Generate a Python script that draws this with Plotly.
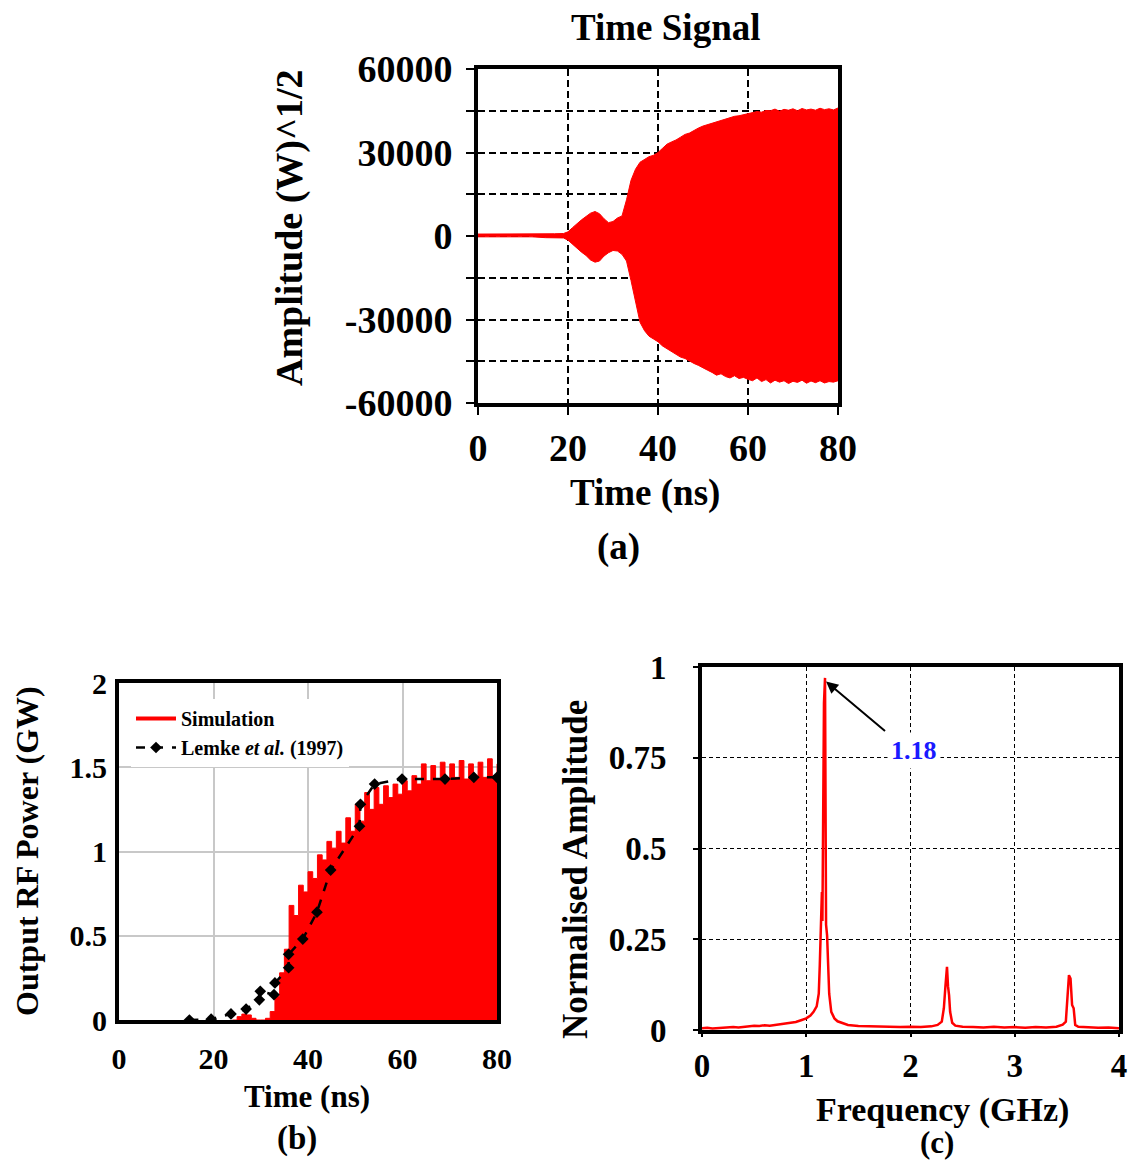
import plotly.graph_objects as go

W, H = 1133, 1164
FONT = "Liberation Serif"

# ---------------- (a) Time signal envelope ----------------
t_env = [0, 4, 8, 12, 15, 17, 19, 20, 21, 22, 23, 24, 25, 26, 27, 28, 29, 30, 31, 32,
         33, 34, 35, 36, 37, 38, 39, 40, 41, 42, 43, 44, 45, 46, 47, 48, 49, 50, 51, 52,
         53, 54, 55, 56, 57, 58, 59, 60, 61, 62, 63, 64, 65, 66, 67, 68, 69, 70, 71, 72,
         73, 74, 75, 76, 77, 78, 79, 80]
env_upper = [700, 700, 600, 600, 800, 800, 900, 1500, 3000, 4500, 5800, 7000, 8200, 8800, 8000, 6200,
             4800, 5200, 6500, 7200, 13000, 20000, 24000, 26500, 27500, 28500, 29000, 30000, 31500, 33000,
             33800, 34500, 35500, 36500, 37000, 38000, 38800, 39500, 40000, 40500, 41000, 41600, 42000,
             42500, 43000, 43200, 43600, 44000, 44300, 44700, 44500, 45100, 45000, 45600, 44800, 45500,
             45200, 45700, 45000, 45800, 45300, 45600, 45200, 45900, 45400, 45700, 45300, 46000]
env_lower = [-300, -300, -300, -300, -600, -600, -700, -1500, -3000, -4200, -5800, -7000, -8600, -9400,
             -9000, -7200, -6000, -5200, -5400, -6600, -9000, -16000, -24000, -31000, -34000, -36000,
             -37000, -38000, -39500, -40500, -41500, -42500, -43500, -44000, -45000, -45800, -46500,
             -47500, -48200, -49000, -50000, -49500, -50500, -51000, -50200, -51200, -50800, -51500,
             -52000, -51000, -52300, -51600, -52800, -51800, -52500, -52000, -53000, -52200, -52600,
             -51800, -52900, -52100, -52700, -52000, -52800, -52300, -52500, -52000]
a_yticks = [-60000, -45000, -30000, -15000, 0, 15000, 30000, 45000, 60000]
a_yticktext = ["-60000", "", "-30000", "", "0", "", "30000", "", "60000"]
a_xticks = [0, 20, 40, 60, 80]

# ---------------- (b) Output RF power ----------------
sim_t = list(range(24, 81))
sim_p = [0.00, 0.02, 0.035, 0.03, 0.01, 0.0, 0.0, 0.01, 0.05, 0.14, 0.28, 0.42, 0.68, 0.62, 0.80,
         0.76, 0.88, 0.84, 0.98, 0.95, 1.06, 1.02, 1.12, 1.05, 1.20, 1.12, 1.28, 1.18, 1.35, 1.25,
         1.38, 1.28, 1.39, 1.32, 1.40, 1.34, 1.42, 1.36, 1.45, 1.40, 1.52, 1.42, 1.51, 1.43, 1.53,
         1.42, 1.52, 1.44, 1.54, 1.43, 1.52, 1.44, 1.53, 1.44, 1.55, 1.45, 1.52]
lemke_t = [14.9, 19.5, 23.7, 26.9, 29.7, 29.9, 32.8, 33.0, 35.9, 35.9, 38.9, 41.9, 44.8, 50.9,
           51.1, 54.1, 59.9, 69.0, 75.1, 80.0]
lemke_p = [0.0, 0.005, 0.036, 0.065, 0.12, 0.17, 0.15, 0.22, 0.31, 0.39, 0.48, 0.64, 0.89, 1.15,
           1.28, 1.40, 1.43, 1.43, 1.44, 1.44]
b_xticks = [0, 20, 40, 60, 80]
b_yticks = [0, 0.5, 1, 1.5, 2]

# ---------------- (c) Spectrum ----------------
freq = [0.00, 0.05, 0.10, 0.15, 0.20, 0.25, 0.30, 0.35, 0.40, 0.45, 0.50, 0.55, 0.60, 0.65, 0.70,
        0.75, 0.80, 0.85, 0.90, 0.95, 1.00,
        1.04, 1.07, 1.10, 1.12, 1.13, 1.14, 1.15, 1.155, 1.16, 1.17, 1.18, 1.185, 1.19, 1.20, 1.21,
        1.22, 1.24, 1.27, 1.30, 1.35, 1.40,
        1.50, 1.60, 1.70, 1.80, 1.90, 2.00, 2.10, 2.20,
        2.26, 2.30, 2.32, 2.335, 2.35, 2.36, 2.37, 2.38, 2.40, 2.43,
        2.50, 2.60, 2.70, 2.80, 2.90, 3.00, 3.10, 3.20, 3.30, 3.40,
        3.46, 3.49, 3.505, 3.52, 3.535, 3.55, 3.565, 3.58, 3.61,
        3.70, 3.80, 3.90, 4.00]
amp = [0.005, 0.006, 0.004, 0.005, 0.007, 0.006, 0.008, 0.007, 0.009, 0.010, 0.012, 0.011, 0.013,
       0.012, 0.014, 0.015, 0.017, 0.019, 0.022, 0.027, 0.032,
       0.040, 0.050, 0.065, 0.10, 0.18, 0.26, 0.38, 0.30, 0.55, 0.90, 0.97, 0.40, 0.29, 0.26, 0.18,
       0.10, 0.05, 0.032, 0.024, 0.018, 0.014,
       0.011, 0.010, 0.009, 0.010, 0.008, 0.009, 0.008, 0.010,
       0.014, 0.023, 0.06, 0.12, 0.174, 0.12, 0.096, 0.05, 0.02, 0.012,
       0.009, 0.008, 0.007, 0.009, 0.007, 0.008, 0.006, 0.008, 0.007, 0.009,
       0.015, 0.023, 0.096, 0.151, 0.142, 0.069, 0.060, 0.014, 0.009,
       0.007, 0.006, 0.007, 0.005]
c_xticks = [0, 1, 2, 3, 4]
c_yticks = [0, 0.25, 0.5, 0.75, 1]
peak_freq, peak_amp = 1.19, 0.96
peak_label = "1.18"


def px(x):
    return x / W


def py(y):
    return 1 - y / H


fig = go.Figure()

# (a)
fig.add_trace(go.Scatter(x=t_env, y=env_upper, mode="lines", line=dict(color="red", width=1),
                         xaxis="x", yaxis="y", showlegend=False, hoverinfo="skip"))
fig.add_trace(go.Scatter(x=t_env, y=env_lower, mode="lines", line=dict(color="red", width=1),
                         fill="tonexty", fillcolor="red", xaxis="x", yaxis="y",
                         showlegend=False, hoverinfo="skip"))

# (b)
fig.add_trace(go.Scatter(x=sim_t, y=sim_p, mode="lines", line=dict(color="red", width=1, shape="hv"),
                         fill="tozeroy", fillcolor="red", xaxis="x2", yaxis="y2", showlegend=False))
fig.add_trace(go.Scatter(x=[None], y=[None], mode="lines", line=dict(color="red", width=4),
                         name="<b>Simulation</b>", xaxis="x2", yaxis="y2"))
fig.add_trace(go.Scatter(x=lemke_t, y=lemke_p, mode="lines+markers",
                         line=dict(color="black", width=2.5, dash="dash"),
                         marker=dict(symbol="diamond", size=9, color="black"),
                         name="<b>Lemke <i>et al.</i> (1997)</b>", xaxis="x2", yaxis="y2"))

# (c)
fig.add_trace(go.Scatter(x=freq, y=amp, mode="lines", line=dict(color="red", width=2.5),
                         xaxis="x3", yaxis="y3", showlegend=False))


def axis(domain, rng, tickvals, size, gridcolor, griddash, gridwidth, anchor, ticktext=None,
         ticklen=7, standoff=4, showgrid=True):
    d = dict(domain=domain, range=rng, tickvals=tickvals, anchor=anchor,
             showgrid=showgrid, gridcolor=gridcolor, griddash=griddash, gridwidth=gridwidth,
             showline=True, mirror=True, linecolor="black", linewidth=4,
             ticks="outside" if ticklen > 0 else "", ticklen=ticklen, tickwidth=2, tickcolor="black",
             tickfont=dict(family=FONT, size=size, color="black", weight="bold"),
             zeroline=False, ticklabelstandoff=standoff, fixedrange=True, automargin=False)
    if ticktext is not None:
        d["ticktext"] = ticktext
    return d


fig.update_layout(
    width=W, height=H, margin=dict(l=0, r=0, t=0, b=0, pad=0, autoexpand=False),
    paper_bgcolor="white", plot_bgcolor="white",
    xaxis=axis([px(478), px(838)], [0, 80], a_xticks, 38, "black", "7px,4px", 1.6, "y",
               ticklen=8, standoff=0),
    yaxis=axis([py(403), py(69)], [-60000, 60000], a_yticks, 38, "black", "7px,4px", 1.6, "x",
               ticktext=a_yticktext, ticklen=8, standoff=6),
    xaxis2=axis([px(119), px(497)], [0, 80], b_xticks, 30, "#c8c8c8", "solid", 1.5, "y2",
                ticklen=0, standoff=9),
    yaxis2=axis([py(1020), py(683)], [0, 2], b_yticks, 30, "#c8c8c8", "solid", 1.5, "x2",
                ticklen=0, standoff=2),
    xaxis3=axis([px(702), px(1119)], [0, 4], c_xticks, 33, "black", "4px,3px", 1.3, "y3",
                ticklen=3, standoff=0),
    yaxis3=axis([py(1030), py(667)], [0, 1], c_yticks, 33, "black", "4px,3px", 1.3, "x3",
                ticklen=5, standoff=20),
    legend=dict(x=px(131), y=py(699), xanchor="left", yanchor="top", bgcolor="white",
                font=dict(family=FONT, size=20, color="black"), tracegroupgap=0,
                itemwidth=40, traceorder="normal"),
    showlegend=True,
)


def label(text, x, y, size, angle=0, color="black", bg=None):
    d = dict(text=f"<b>{text}</b>", x=px(x), y=py(y), xref="paper", yref="paper",
             showarrow=False, textangle=angle, xanchor="center", yanchor="middle",
             font=dict(family=FONT, size=size, color=color))
    if bg:
        d["bgcolor"] = bg
    fig.add_annotation(**d)


label("Time Signal", 666, 27, 37)
label("Time (ns)", 645, 493, 37)
label("(a)", 619, 547, 37)
label("Amplitude (W)^1/2", 290, 228, 38, angle=-90)
label("Time (ns)", 307, 1096, 31)
label("(b)", 297, 1138, 33)
label("Output RF Power (GW)", 27, 851, 32, angle=-90)
label("Frequency (GHz)", 942, 1110, 34)
label("(c)", 937, 1142, 31)
label("Normalised Amplitude", 575, 870, 35, angle=-90)

# arrow + peak label in (c)
fig.add_annotation(x=peak_freq, y=peak_amp, xref="x3", yref="y3", ax=1.77, ay=0.82,
                   axref="x3", ayref="y3", text="", showarrow=True, arrowhead=2,
                   arrowsize=1.2, arrowwidth=2, arrowcolor="black")
fig.add_annotation(x=2.03, y=0.77, xref="x3", yref="y3", text=f"<b>{peak_label}</b>",
                   showarrow=False, bgcolor="white", borderpad=3,
                   font=dict(family=FONT, size=26, color="#1a1aff"))

fig.write_html("out.html")
